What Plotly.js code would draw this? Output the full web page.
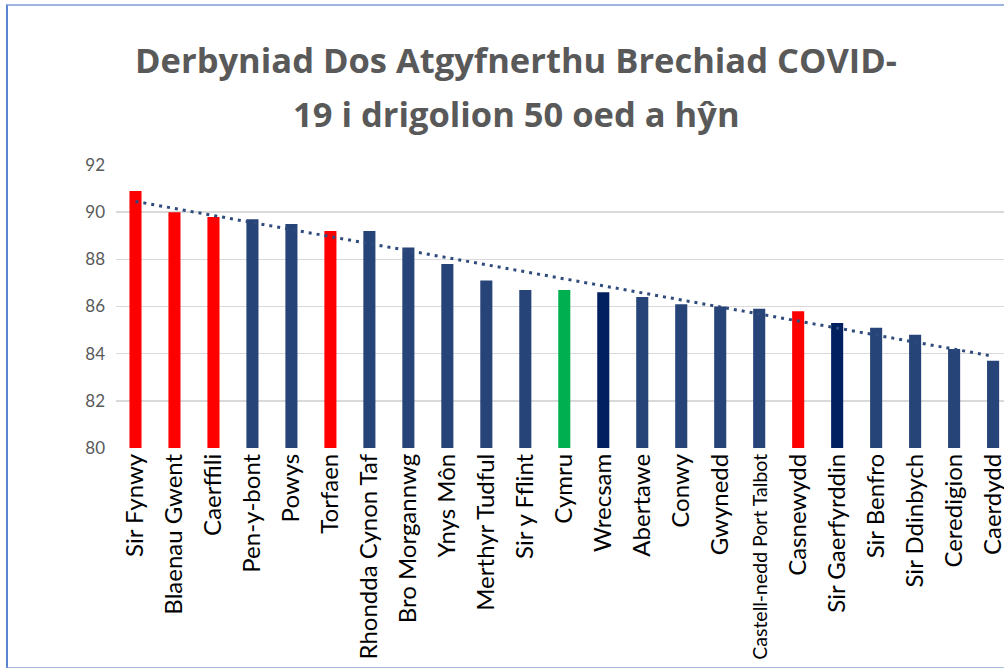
<!DOCTYPE html>
<html>
<head>
<meta charset="utf-8">
<script src="https://cdn.plot.ly/plotly-3.0.1.min.js"></script>
<style>
  html, body { margin: 0; padding: 0; overflow: hidden; background: #fff; }
  #chart { position: absolute; left: 0; top: 0; width: 1004px; height: 668px; }
  #frame { position: absolute; left: 6px; top: 4px; width: 1100px; height: 661px;
           border-left: 2px solid #5B84CF; border-top: 2px solid #9DB4E0; border-bottom: 2px solid #A9BCE0;
           pointer-events: none; }
</style>
</head>
<body>
<div id="chart"></div>
<div id="frame"></div>
<script>
const categories = ["Sir Fynwy", "Blaenau Gwent", "Caerffili", "Pen-y-bont", "Powys", "Torfaen",
  "Rhondda Cynon Taf", "Bro Morgannwg", "Ynys Môn", "Merthyr Tudful", "Sir y Fflint", "Cymru",
  "Wrecsam", "Abertawe", "Conwy", "Gwynedd", "Castell-nedd Port Talbot", "Casnewydd",
  "Sir Gaerfyrddin", "Sir Benfro", "Sir Ddinbych", "Ceredigion", "Caerdydd"];
const values = [90.9, 90.0, 89.8, 89.7, 89.5, 89.2, 89.2, 88.5, 87.8, 87.1, 86.7, 86.7,
  86.6, 86.4, 86.1, 86.0, 85.9, 85.8, 85.3, 85.1, 84.8, 84.2, 83.7];
// colour group per bar: r = red, b = blue, n = navy, g = green
const groups = ["r","r","r","b","b","r","b","b","b","b","b","g","n","b","b","b","b","r","n","b","b","b","b"];
const tickLabels = categories.map(c => c === "Castell-nedd Port Talbot"
  ? '<span style="font-size:19.5px">' + c + '</span>' : c);
const yTicks = [80, 82, 84, 86, 88, 90, 92];
const titleLine1 = "Derbyniad Dos Atgyfnerthu Brechiad COVID-";
const titleLine2 = "19 i drigolion 50 oed a hŷn";

const palette = { r: "#FF0000", b: "#264478", n: "#002060", g: "#00B050" };
const colors = groups.map(g => palette[g]);

// Linear trendline (least squares) like Excel
const n = values.length;
const xs = values.map((_, i) => i + 1);
const mx = xs.reduce((a, b) => a + b, 0) / n;
const my = values.reduce((a, b) => a + b, 0) / n;
let sxy = 0, sxx = 0;
for (let i = 0; i < n; i++) { sxy += (xs[i] - mx) * (values[i] - my); sxx += (xs[i] - mx) ** 2; }
const slope = sxy / sxx, intercept = my - slope * mx;
const trend = xs.map(x => intercept + slope * x);

const idx = categories.map((_, i) => i);

const data = [
  { type: "bar", x: idx, y: values, marker: { color: colors }, hoverinfo: "x+y", showlegend: false },
  { type: "scatter", mode: "lines", x: idx, y: trend,
    line: { color: "#2F4B7C", width: 3, dash: "3px,5px" }, showlegend: false, hoverinfo: "skip" }
];

const titleFont = { family: "'Open Sans', sans-serif", size: 34.5, color: "#595959", weight: "bold" };

const layout = {
  width: 1004, height: 668,
  paper_bgcolor: "#fff", plot_bgcolor: "#fff",
  margin: { l: 116, r: 0, t: 165, b: 220, pad: 0 },
  bargap: 0.69,
  font: { family: "Lato, 'Liberation Sans', sans-serif", color: "#595959" },
  title: {
    text: titleLine1,
    font: titleFont,
    x: 516 / 1004, xanchor: "center", xref: "container",
    y: 1 - 48.5 / 668, yanchor: "top", yref: "container"
  },
  annotations: [{
    text: titleLine2,
    font: titleFont,
    xref: "paper", yref: "paper", x: (516 - 116) / (1004 - 116), y: (448 - 88) / 283,
    xanchor: "center", yanchor: "top", showarrow: false
  }],
  xaxis: {
    tickmode: "array", tickvals: idx, ticktext: tickLabels,
    tickangle: -90, range: [-0.5, 22.28],
    tickfont: { family: "Lato, sans-serif", size: 24, color: "#000000" },
    showgrid: false, zeroline: false, showline: false, ticks: "", fixedrange: true,
    automargin: false, ticklabeloverflow: "allow"
  },
  yaxis: {
    range: [80, 92], tickmode: "array", tickvals: yTicks, ticktext: yTicks.map(String),
    tickfont: { family: "Lato, sans-serif", size: 17, color: "#595959" },
    showgrid: true, gridcolor: "#D9D9D9", gridwidth: 1.5,
    zeroline: false, showline: false, ticks: "", ticklabelstandoff: 10, fixedrange: true
  }
};

Plotly.newPlot("chart", data, layout, { displayModeBar: false, staticPlot: true });
</script>
</body>
</html>
